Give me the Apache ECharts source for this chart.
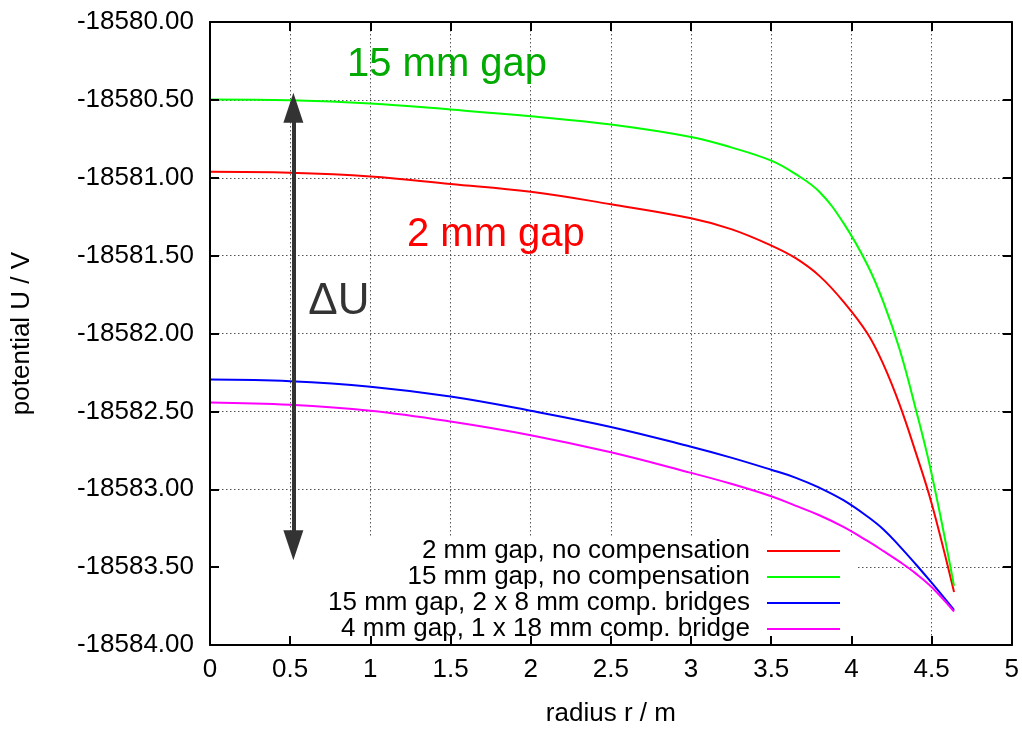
<!DOCTYPE html>
<html>
<head>
<meta charset="utf-8">
<script src="https://cdn.jsdelivr.net/npm/echarts@6/dist/echarts.min.js"></script>
<style>html,body{margin:0;padding:0;background:#fff;}#chart{width:1022px;height:732px;}</style>
</head>
<body>
<div id="chart"></div>
<script>
// radius values (m)
const radius = [0, 0.5, 1, 1.5, 2, 2.5, 3, 3.25, 3.5, 3.65, 3.8, 3.95, 4.1, 4.2, 4.3, 4.4, 4.5, 4.64];
// potential values (V)
const gap2NoComp   = [-18580.962, -18580.968, -18580.992, -18581.04, -18581.09, -18581.17, -18581.26, -18581.33, -18581.435, -18581.515, -18581.63, -18581.795, -18582.0, -18582.2, -18582.455, -18582.76, -18583.09, -18583.66];
const gap15NoComp  = [-18580.497, -18580.502, -18580.523, -18580.562, -18580.605, -18580.658, -18580.738, -18580.805, -18580.89, -18580.975, -18581.09, -18581.29, -18581.56, -18581.80, -18582.10, -18582.48, -18582.90, -18583.62];
const gap15Bridges = [-18582.296, -18582.307, -18582.342, -18582.405, -18582.496, -18582.60, -18582.727, -18582.797, -18582.875, -18582.925, -18582.99, -18583.07, -18583.175, -18583.258, -18583.365, -18583.48, -18583.60, -18583.775];
const gap4Bridge   = [-18582.443, -18582.458, -18582.496, -18582.565, -18582.653, -18582.763, -18582.895, -18582.965, -18583.045, -18583.105, -18583.167, -18583.242, -18583.332, -18583.397, -18583.465, -18583.54, -18583.628, -18583.785];

const seriesNames = ['2 mm gap, no compensation', '15 mm gap, no compensation', '15 mm gap, 2 x 8 mm comp. bridges', '4 mm gap, 1 x 18 mm comp. bridge'];
const seriesColors = ['#ff0000', '#00ff00', '#0000ff', '#ff00ff'];
const seriesValues = [gap2NoComp, gap15NoComp, gap15Bridges, gap4Bridge];

// annotations (data coordinates)
const arrowStart = [0.52, -18580.55];
const arrowEnd = [0.52, -18583.36];
const labelTexts = ['15 mm gap', '2 mm gap', 'ΔU'];
const labelCoords = [[1.478, -18580.273], [1.783, -18581.365], [0.804, -18581.80]];

const xMin = 0, xMax = 5, xStep = 0.5;
const yMin = -18584, yMax = -18580, yStep = 0.5;

const font = 'Liberation Sans, Arial, Helvetica, sans-serif';
const chart = echarts.init(document.getElementById('chart'), null, {renderer: 'canvas'});

const gridLine = {show: true, lineStyle: {type: [1.5, 2.5], color: '#555', width: 1}};
const axLine = {show: true, onZero: false, lineStyle: {color: '#000', width: 2}};
const axTick = {show: true, inside: true, length: 9, lineStyle: {color: '#000', width: 2}};

const series = seriesNames.map((n, i) => ({
  name: n,
  type: 'line',
  xAxisIndex: 0,
  yAxisIndex: 0,
  showSymbol: false,
  symbol: 'none',
  smooth: 0.4,
  z: 3,
  lineStyle: {color: seriesColors[i], width: 2},
  itemStyle: {color: seriesColors[i]},
  data: radius.map((r, j) => [r, seriesValues[i][j]])
}));

series[0].markLine = {
  silent: true,
  animation: false,
  symbol: ['triangle', 'triangle'],
  symbolSize: [20, 30],
  label: {show: false},
  lineStyle: {color: '#333', width: 4, type: 'solid'},
  emphasis: {disabled: true},
  data: [[{coord: arrowStart}, {coord: arrowEnd}]]
};
const labelColors = ['#00aa00', '#ff0000', '#333333'];
const labelSizes = [40, 40, 44];
series[0].markPoint = {
  silent: true,
  animation: false,
  symbol: 'circle',
  symbolSize: 0,
  data: labelTexts.map((t, i) => ({
    coord: labelCoords[i],
    itemStyle: {color: 'transparent'},
    label: {show: true, position: 'inside', formatter: t, color: labelColors[i], fontSize: labelSizes[i], fontFamily: font}
  }))
};

chart.setOption({
  animation: false,
  textStyle: {fontFamily: font},
  grid: {left: 210, right: 10, top: 22, bottom: 80, containLabel: false},
  legend: {
    data: seriesNames,
    orient: 'vertical',
    align: 'right',
    right: 165,
    top: 537,
    padding: [1, 17, 8, 110],
    itemGap: 0,
    itemWidth: 73,
    itemHeight: 2,
    icon: 'rect',
    backgroundColor: '#fff',
    selectedMode: false,
    textStyle: {fontSize: 26, color: '#000', fontFamily: font, padding: [0, 12, 0, 0], lineHeight: 26}
  },
  xAxis: [
    {type: 'value', min: xMin, max: xMax, interval: xStep, position: 'bottom', z: 0,
     axisLine: {show: false}, axisTick: {show: false}, axisLabel: {show: false}, splitLine: gridLine},
    {type: 'value', min: xMin, max: xMax, interval: xStep, position: 'bottom', z: 10,
     axisLine: axLine, axisTick: axTick,
     axisLabel: {show: true, fontSize: 26, color: '#000', margin: 12, showMinLabel: true, showMaxLabel: true},
     splitLine: {show: false},
     name: 'radius r / m', nameLocation: 'middle', nameGap: 56, nameTextStyle: {fontSize: 26, color: '#000'}},
    {type: 'value', min: xMin, max: xMax, interval: xStep, position: 'top', z: 10,
     axisLine: axLine, axisTick: axTick, axisLabel: {show: false}, splitLine: {show: false}}
  ],
  yAxis: [
    {type: 'value', min: yMin, max: yMax, interval: yStep, position: 'left', z: 0,
     axisLine: {show: false}, axisTick: {show: false}, axisLabel: {show: false}, splitLine: gridLine},
    {type: 'value', min: yMin, max: yMax, interval: yStep, position: 'left', z: 10,
     axisLine: axLine, axisTick: axTick,
     axisLabel: {show: true, fontSize: 26, color: '#000', margin: 16, showMinLabel: true, showMaxLabel: true,
                 formatter: v => v.toFixed(2)},
     splitLine: {show: false},
     name: 'potential U / V', nameLocation: 'middle', nameGap: 175, nameRotate: 90,
     nameTextStyle: {fontSize: 26, color: '#000'}},
    {type: 'value', min: yMin, max: yMax, interval: yStep, position: 'right', z: 10,
     axisLine: axLine, axisTick: axTick, axisLabel: {show: false}, splitLine: {show: false}}
  ],
  series: series
});
</script>
</body>
</html>
